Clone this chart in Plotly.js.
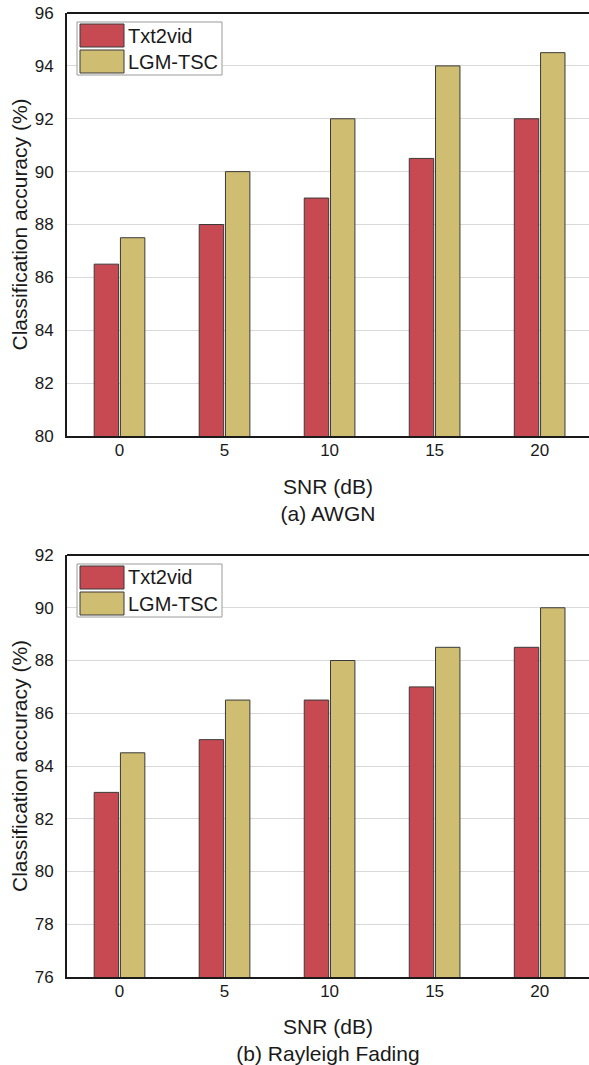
<!DOCTYPE html>
<html>
<head>
<meta charset="utf-8">
<script src="https://cdn.plot.ly/plotly-3.0.1.min.js"></script>
<style>html,body{margin:0;padding:0;background:#fff;}#chart{width:589px;height:1065px;}</style>
</head>
<body>
<div id="chart"></div>
<script>
// ---- data ----
const snrLabels = ['0', '5', '10', '15', '20'];
const seriesNames = ['Txt2vid', 'LGM-TSC'];
const awgnTxt2vid = [86.5, 88, 89, 90.5, 92];
const awgnLGM = [87.5, 90, 92, 94, 94.5];
const rayTxt2vid = [83, 85, 86.5, 87, 88.5];
const rayLGM = [84.5, 86.5, 88, 88.5, 90];
const panelTitles = ['SNR (dB)<br>(a) AWGN', 'SNR (dB)<br>(b) Rayleigh Fading'];
const yTitle = 'Classification accuracy (%)';

// ---- style ----
const colors = ['#C74A53', '#CFBD72'];
const FONT = 'Liberation Sans, Arial, sans-serif';
const W = 589, H = 1065;
const M = {l: 67, r: 0, t: 13, b: 88};
const PW = W - M.l - M.r, PH = H - M.t - M.b;
const xpos = snrLabels.map((_, i) => i);

function px2x(px) { return (px - M.l) / PW; }
function px2y(py) { return (H - M.b - py) / PH; }

const traces = [];
function addBars(vals, name, ci, xa, ya) {
  traces.push({
    type: 'bar', x: xpos, y: vals, name: name, xaxis: xa, yaxis: ya,
    showlegend: false,
    marker: {color: colors[ci], line: {color: '#3a3a3a', width: 1}},
    hoverinfo: 'y'
  });
}
addBars(awgnTxt2vid, seriesNames[0], 0, 'x', 'y');
addBars(awgnLGM, seriesNames[1], 1, 'x', 'y');
addBars(rayTxt2vid, seriesNames[0], 0, 'x2', 'y2');
addBars(rayLGM, seriesNames[1], 1, 'x2', 'y2');

function xaxisDef(anchor, title) {
  return {
    anchor: anchor, domain: [0, 1], range: [-0.5, 4.47],
    tickvals: xpos, ticktext: snrLabels,
    showline: true, linecolor: '#1a1a1a', linewidth: 2,
    showgrid: false, zeroline: false, ticks: '',
    ticklabelstandoff: -2,
    tickfont: {family: FONT, size: 17, color: '#1a1a1a'},
    title: {text: title, font: {family: FONT, size: 21, color: '#1a1a1a'}, standoff: 20}
  };
}
function yaxisDef(anchor, domain, range) {
  return {
    anchor: anchor, domain: domain, range: range, dtick: 2, tick0: range[0],
    showline: true, linecolor: '#1a1a1a', linewidth: 2,
    showgrid: true, gridcolor: '#d9d9d9', gridwidth: 1, zeroline: false, ticks: '',
    ticklabelstandoff: 8,
    tickfont: {family: FONT, size: 17, color: '#1a1a1a'},
    title: {text: yTitle, font: {family: FONT, size: 21, color: '#1a1a1a'}, standoff: 1}
  };
}

const topDom = [px2y(436), 1];
const botDom = [0, px2y(555)];

const shapes = [], annotations = [];
// top border lines of each panel
[['x', 'y'], ['x2', 'y2']].forEach(([xa, ya]) => {
  shapes.push({type: 'line', xref: xa + ' domain', yref: ya + ' domain', x0: 0, x1: 1, y0: 1, y1: 1,
    line: {color: '#1a1a1a', width: 2}});
});
// legends (drawn as boxes + swatches + text)
function legend(topPx) {
  const bx0 = 77, bx1 = 222, by0 = topPx + 9, by1 = topPx + 62;
  shapes.push({type: 'rect', xref: 'paper', yref: 'paper', x0: px2x(bx0), x1: px2x(bx1),
    y0: px2y(by1), y1: px2y(by0), line: {color: '#9a9a9a', width: 1}, fillcolor: '#ffffff'});
  seriesNames.forEach((nm, i) => {
    const sy0 = by0 + 2 + i * 26, sy1 = sy0 + 23;
    shapes.push({type: 'rect', xref: 'paper', yref: 'paper', x0: px2x(80), x1: px2x(124),
      y0: px2y(sy1), y1: px2y(sy0), line: {color: '#3a3a3a', width: 1}, fillcolor: colors[i]});
    annotations.push({xref: 'paper', yref: 'paper', x: px2x(126), y: px2y((sy0 + sy1) / 2),
      xanchor: 'left', yanchor: 'middle', showarrow: false, text: nm,
      font: {family: FONT, size: 20, color: '#1a1a1a'}});
  });
}
legend(13);
legend(555);

const layout = {
  width: W, height: H, margin: M,
  paper_bgcolor: '#ffffff', plot_bgcolor: '#ffffff',
  barmode: 'group', bargap: 0.5, bargroupgap: 0.07,
  showlegend: false,
  xaxis: xaxisDef('y', panelTitles[0]),
  yaxis: yaxisDef('x', topDom, [80, 96]),
  xaxis2: xaxisDef('y2', panelTitles[1]),
  yaxis2: yaxisDef('x2', botDom, [76, 92]),
  shapes: shapes, annotations: annotations
};
Plotly.newPlot('chart', traces, layout, {displayModeBar: false, staticPlot: true});
</script>
</body>
</html>
